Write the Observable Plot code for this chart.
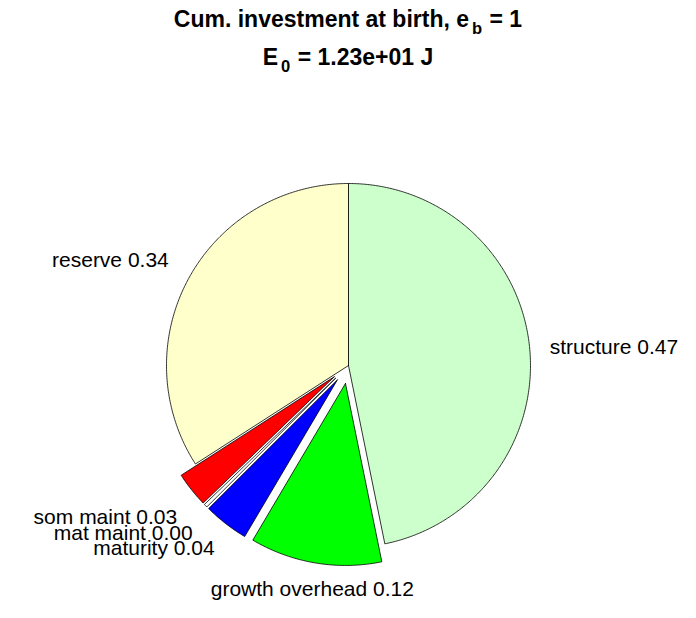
<!DOCTYPE html>
<html><head><meta charset="utf-8">
<script src="https://cdn.jsdelivr.net/npm/d3@7"></script>
<script src="https://cdn.jsdelivr.net/npm/@observablehq/plot@0.6"></script>
<style>
body{margin:0;background:#fff;}
#wrap{width:696px;font-family:"Liberation Sans",Arial,Helvetica,sans-serif;}
#head{position:relative;width:696px;height:90px;}
.t{position:absolute;white-space:nowrap;font-weight:bold;font-size:23px;line-height:23px;transform:translateX(-50%);color:#000;}
.t sub{font-size:0.72em;vertical-align:-0.45em;line-height:0;margin-left:3px;margin-right:1px;}
svg{display:block;}
</style></head>
<body>
<div id="wrap">
  <div id="head">
    <div class="t" style="left:348px;top:7.5px;">Cum. investment at birth, e<sub>b</sub> = 1</div>
    <div class="t" style="left:348px;top:45.5px;">E<sub>0</sub> = 1.23e+01 J</div>
  </div>
  <div id="chart"></div>
</div>
<script>
// ---- data ----
const categories = ["structure", "growth overhead", "maturity", "mat maint", "som maint", "reserve"];
const fractions  = [0.468, 0.117, 0.040, 0.003, 0.031, 0.341];
const exploded   = [false, true, true, true, true, false];
// ---- styles ----
const sliceColors = ["#ccffcc", "#00ff00", "#0000ff", "#ffffff", "#ff0000", "#ffffcc"];
const labelNudge = {"som maint": 8.5, "mat maint": 6.5, "maturity": 2}; // px, label collision spacing

const W = 696, H = 528, CX = 348, CY = 275, R = 182, EXPLODE = 0.1;

const total = d3.sum(fractions);
let acc = 0;
const slices = categories.map((name, i) => {
  const a0 = acc / total * 2 * Math.PI;
  acc += fractions[i];
  const a1 = acc / total * 2 * Math.PI;
  const mid = (a0 + a1) / 2;
  const e = exploded[i] ? EXPLODE : 0;
  return {name, value: fractions[i], a0, a1, mid, e, ox: e * Math.sin(mid), oy: e * Math.cos(mid), color: sliceColors[i]};
});

function polygon(s) {
  const pts = [{x: s.ox, y: s.oy}];
  const n = Math.max(2, Math.ceil((s.a1 - s.a0) / (Math.PI / 360)) + 1);
  for (let k = 0; k < n; k++) {
    const a = s.a0 + (s.a1 - s.a0) * k / (n - 1);
    pts.push({x: s.ox + Math.sin(a), y: s.oy + Math.cos(a)});
  }
  pts.push({x: s.ox, y: s.oy});
  return pts;
}

const labels = slices.map(s => {
  const rr = 1.1 + s.e;
  const sx = Math.sin(s.mid), cy = Math.cos(s.mid);
  let shiftPx;
  if (Math.abs(cy) < 0.2) shiftPx = 2;          // near horizontal: centred vertically
  else shiftPx = cy < 0 ? 8 : -9;               // below: hang; above: sit
  shiftPx += (labelNudge[s.name] || 0);
  const side = Math.abs(sx) < 0.3 ? "middle" : (sx > 0 ? "start" : "end");
  let dxPx = side === "start" ? 2 : 0;
  if (side === "end" && cy > 0.2) dxPx = -4;
  return {
    text: `${s.name} ${s.value.toFixed(2)}`,
    x: rr * sx + dxPx / R,
    y: rr * cy - shiftPx / R,
    side
  };
});

const marks = slices.map(s => Plot.line(polygon(s), {
  x: "x", y: "y", fill: s.color, stroke: "black", strokeWidth: 0.8,
  strokeLinejoin: "miter", curve: "linear"
}));
for (const side of ["start", "end", "middle"]) {
  marks.push(Plot.text(labels.filter(d => d.side === side), {
    x: "x", y: "y", text: "text", textAnchor: side, fontSize: 21, fill: "black"
  }));
}

const chart = Plot.plot({
  width: W, height: H,
  marginTop: 0, marginRight: 0, marginBottom: 0, marginLeft: 0,
  x: {domain: [-CX / R, (W - CX) / R], range: [0, W], axis: null},
  y: {domain: [(CY - H) / R, CY / R], range: [H, 0], axis: null},
  style: {fontFamily: '"Liberation Sans", Arial, Helvetica, sans-serif', background: "white", overflow: "visible"},
  marks
});
document.getElementById("chart").appendChild(chart);
</script>
</body></html>
